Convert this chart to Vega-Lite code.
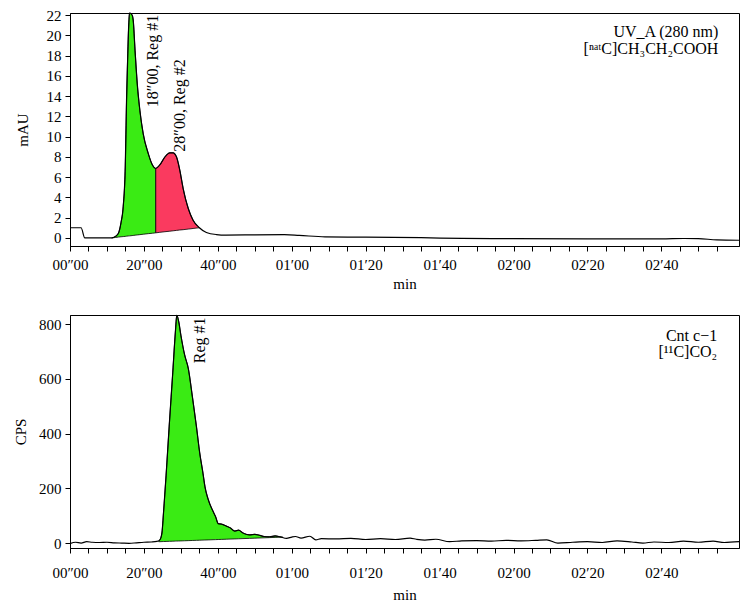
{
  "$schema": "https://vega.github.io/schema/vega-lite/v6.json",
  "padding": {"left": 13, "top": 7, "right": 11, "bottom": 5},
  "spacing": 20,
  "config": {
    "font": "Liberation Serif",
    "view": {"stroke": "#000", "strokeWidth": 1},
    "axis": {"grid": false, "domainColor": "#000", "tickColor": "#000", "labelColor": "#000", "titleColor": "#000", "labelFont": "Liberation Serif", "titleFont": "Liberation Serif", "labelFontSize": 15, "titleFontSize": 15, "titleFontWeight": "normal", "tickSize": 5, "labelPadding": 4, "domainWidth": 1, "tickWidth": 1},
    "text": {"font": "Liberation Serif", "color": "#000"}
  },
  "datasets": {
    "uv": [
      {"t":0,"v":1.0},{"t":3.0,"v":1.0},{"t":4.0,"v":0},{"t":11.3,"v":0},{"t":12.3,"v":0.15},{"t":13.1,"v":0.45},{"t":13.8,"v":1.5},{"t":14.4,"v":3.1},{"t":14.95,"v":7.0},{"t":15.3,"v":13.6},{"t":15.8,"v":20.2},{"t":16.1,"v":22.2},{"t":16.8,"v":22.0},{"t":17.1,"v":21.5},{"t":17.6,"v":18.5},{"t":18.2,"v":15.2},{"t":18.9,"v":12.6},{"t":19.8,"v":10.3},{"t":21.2,"v":8.3},{"t":22.3,"v":7.2},{"t":23.2,"v":6.85},{"t":24.3,"v":7.2},{"t":25.7,"v":8.0},{"t":27.0,"v":8.4},{"t":27.9,"v":8.4},{"t":28.8,"v":8.0},{"t":29.7,"v":6.7},{"t":30.6,"v":4.9},{"t":32.0,"v":2.9},{"t":33.3,"v":1.75},{"t":35,"v":1.0},{"t":36.9,"v":0.53},{"t":39.6,"v":0.33},{"t":42.2,"v":0.28},{"t":50,"v":0.3},{"t":58,"v":0.32},{"t":62,"v":0.25},{"t":69,"v":0.1},{"t":80,"v":0.07},{"t":95,"v":0.02},{"t":106,"v":-0.05},{"t":120,"v":-0.08},{"t":140,"v":-0.1},{"t":160,"v":-0.1},{"t":166,"v":-0.06},{"t":170,"v":-0.07},{"t":175,"v":-0.2},{"t":181,"v":-0.23}
    ],
    "uvreg": [
      {"reg":"1","t":11.3,"v":0,"base":0},{"reg":"1","t":12.3,"v":0.15,"base":0.04},{"reg":"1","t":13.1,"v":0.45,"base":0.08},{"reg":"1","t":13.8,"v":1.5,"base":0.11},{"reg":"1","t":14.4,"v":3.1,"base":0.13},{"reg":"1","t":14.95,"v":7.0,"base":0.15},{"reg":"1","t":15.3,"v":13.6,"base":0.17},{"reg":"1","t":15.8,"v":20.2,"base":0.19},{"reg":"1","t":16.1,"v":22.2,"base":0.2},{"reg":"1","t":16.8,"v":22.0,"base":0.23},{"reg":"1","t":17.1,"v":21.5,"base":0.24},{"reg":"1","t":17.6,"v":18.5,"base":0.27},{"reg":"1","t":18.2,"v":15.2,"base":0.29},{"reg":"1","t":18.9,"v":12.6,"base":0.32},{"reg":"1","t":19.8,"v":10.3,"base":0.36},{"reg":"1","t":21.2,"v":8.3,"base":0.42},{"reg":"1","t":22.3,"v":7.2,"base":0.46},{"reg":"1","t":23.2,"v":6.85,"base":0.5},
      {"reg":"2","t":23.2,"v":6.85,"base":0.5},{"reg":"2","t":24.3,"v":7.2,"base":0.55},{"reg":"2","t":25.7,"v":8.0,"base":0.61},{"reg":"2","t":27.0,"v":8.4,"base":0.66},{"reg":"2","t":27.9,"v":8.4,"base":0.7},{"reg":"2","t":28.8,"v":8.0,"base":0.74},{"reg":"2","t":29.7,"v":6.7,"base":0.78},{"reg":"2","t":30.6,"v":4.9,"base":0.81},{"reg":"2","t":32.0,"v":2.9,"base":0.87},{"reg":"2","t":33.3,"v":1.75,"base":0.93},{"reg":"2","t":35,"v":1.0,"base":1.0}
    ],
    "uvlab": [
      {"t":22.5,"v":12.9,"label":"18″00, Reg #1"},
      {"t":29.7,"v":8.5,"label":"28″00, Reg #2"}
    ],
    "uvnote": [
      {"t":175.4,"v":20.3,"label":"UV_A (280 nm)"},
      {"t":175.4,"v":18.65,"label":"[ⁿᵃᵗC]CH₃CH₂COOH"}
    ],
    "cps": [
      {"t":0,"v":-2},{"t":1.5,"v":3},{"t":3,"v":0},{"t":4.5,"v":5},{"t":6,"v":3},{"t":8,"v":2},{"t":10,"v":3},{"t":12,"v":1},{"t":14,"v":0},{"t":16,"v":-1},{"t":18,"v":1},{"t":20,"v":3},{"t":22,"v":4},{"t":23.5,"v":6},{"t":24.2,"v":10},{"t":24.6,"v":20},{"t":24.9,"v":40},{"t":25.3,"v":111},{"t":26.0,"v":248},{"t":26.9,"v":440},{"t":27.8,"v":622},{"t":28.5,"v":769},{"t":28.9,"v":832},{"t":29.4,"v":810},{"t":30.0,"v":759},{"t":31.0,"v":688},{"t":32.0,"v":638},{"t":33.1,"v":536},{"t":34.2,"v":426},{"t":35.1,"v":329},{"t":36.0,"v":253},{"t":36.5,"v":207},{"t":37.4,"v":159},{"t":38.7,"v":116},{"t":39.4,"v":96},{"t":40.1,"v":71},{"t":41.0,"v":69},{"t":42.3,"v":62},{"t":43.3,"v":56},{"t":44.6,"v":44},{"t":45.6,"v":47},{"t":46.8,"v":37},{"t":48.6,"v":30},{"t":50.0,"v":32},{"t":51.4,"v":28},{"t":52.5,"v":24},{"t":54,"v":23},{"t":55.5,"v":26},{"t":56.8,"v":23},{"t":58.6,"v":17},{"t":60,"v":22},{"t":61,"v":24},{"t":62.5,"v":18},{"t":64.9,"v":25},{"t":66.5,"v":12},{"t":68,"v":16},{"t":72,"v":15},{"t":76,"v":17},{"t":80,"v":13},{"t":84,"v":16},{"t":88,"v":13},{"t":92,"v":18},{"t":93.7,"v":14},{"t":96,"v":11},{"t":99,"v":14},{"t":102.7,"v":5},{"t":106,"v":8},{"t":110,"v":9},{"t":114,"v":7},{"t":118,"v":10},{"t":122,"v":8},{"t":126,"v":10},{"t":129,"v":12},{"t":132,"v":0},{"t":136,"v":3},{"t":140,"v":5},{"t":144,"v":2},{"t":148,"v":8},{"t":152,"v":4},{"t":155,"v":0},{"t":158,"v":4},{"t":162,"v":2},{"t":166,"v":7},{"t":170,"v":3},{"t":174,"v":7},{"t":177,"v":2},{"t":181,"v":5}
    ],
    "cpsreg": [
      {"reg":"1","t":24.0,"v":5,"base":5},{"reg":"1","t":24.2,"v":10,"base":5},{"reg":"1","t":24.6,"v":20,"base":5.2},{"reg":"1","t":24.9,"v":40,"base":5.4},{"reg":"1","t":25.3,"v":111,"base":5.6},{"reg":"1","t":26.0,"v":248,"base":5.9},{"reg":"1","t":26.9,"v":440,"base":6.4},{"reg":"1","t":27.8,"v":622,"base":6.8},{"reg":"1","t":28.5,"v":769,"base":7.2},{"reg":"1","t":28.9,"v":832,"base":7.4},{"reg":"1","t":29.4,"v":810,"base":7.6},{"reg":"1","t":30.0,"v":759,"base":7.9},{"reg":"1","t":31.0,"v":688,"base":8.4},{"reg":"1","t":32.0,"v":638,"base":8.9},{"reg":"1","t":33.1,"v":536,"base":9.5},{"reg":"1","t":34.2,"v":426,"base":10},{"reg":"1","t":35.1,"v":329,"base":10.5},{"reg":"1","t":36.0,"v":253,"base":10.9},{"reg":"1","t":36.5,"v":207,"base":11.2},{"reg":"1","t":37.4,"v":159,"base":11.6},{"reg":"1","t":38.7,"v":116,"base":12.3},{"reg":"1","t":39.4,"v":96,"base":12.6},{"reg":"1","t":40.1,"v":71,"base":13},{"reg":"1","t":41.0,"v":69,"base":13.4},{"reg":"1","t":42.3,"v":62,"base":14.1},{"reg":"1","t":43.3,"v":56,"base":14.6},{"reg":"1","t":44.6,"v":44,"base":15.2},{"reg":"1","t":45.6,"v":47,"base":15.7},{"reg":"1","t":46.8,"v":37,"base":16.3},{"reg":"1","t":48.6,"v":30,"base":17.2},{"reg":"1","t":50.0,"v":32,"base":17.9},{"reg":"1","t":51.4,"v":28,"base":18.6},{"reg":"1","t":52.5,"v":24,"base":19.2},{"reg":"1","t":54,"v":23,"base":19.9},{"reg":"1","t":55.5,"v":26,"base":20.7},{"reg":"1","t":56.8,"v":23,"base":21.3},{"reg":"1","t":57.6,"v":21,"base":21.5}
    ],
    "cpslab": [
      {"t":35.1,"v":657,"label":"Reg #1"}
    ],
    "cpsnote": [
      {"t":175.1,"v":756,"label":"Cnt c−1"},
      {"t":175.1,"v":697,"label":"[¹¹C]CO₂"}
    ]
  },
  "vconcat": [
    {
      "width": 669,
      "height": 233,
      "encoding": {
        "x": {"field": "t", "type": "quantitative", "scale": {"domain": [0, 181], "nice": false, "zero": false},
          "axis": {"title": "min", "values": [0,5,10,15,20,25,30,35,40,45,50,55,60,65,70,75,80,85,90,95,100,105,110,115,120,125,130,135,140,145,150,155,160,165,170,175],
            "labelExpr": "datum.value % 20 == 0 ? (datum.value < 60 ? (datum.value < 10 ? '0' : '') + datum.value + '″00' : '0' + floor(datum.value / 60) + '′' + (datum.value % 60 < 10 ? '0' : '') + (datum.value % 60)) : ''",
            "labelFlush": false, "labelOverlap": false, "labelPadding": 6, "titlePadding": 4}},
        "y": {"field": "v", "type": "quantitative", "scale": {"domain": [-0.8, 22.2], "nice": false, "zero": false},
          "axis": {"title": "mAU", "values": [0,2,4,6,8,10,12,14,16,18,20,22], "titlePadding": 16}}
      },
      "layer": [
        {"data": {"name": "uvreg"}, "mark": {"type": "area", "stroke": "#000", "strokeWidth": 0.8, "interpolate": "monotone", "fillOpacity": 1},
          "encoding": {"y2": {"field": "base"}, "color": {"field": "reg", "type": "nominal", "scale": {"domain": ["1","2"], "range": ["#3aeb14","#fa3a5f"]}, "legend": null}}},
        {"data": {"name": "uv"}, "mark": {"type": "line", "color": "#000", "strokeWidth": 1.2, "interpolate": "monotone"}},
        {"data": {"name": "uvlab"}, "mark": {"type": "text", "angle": 270, "align": "left", "baseline": "middle", "fontSize": 16}, "encoding": {"text": {"field": "label"}}},
        {"data": {"name": "uvnote"}, "mark": {"type": "text", "align": "right", "baseline": "middle", "fontSize": 16}, "encoding": {"text": {"field": "label"}}}
      ]
    },
    {
      "width": 669,
      "height": 233,
      "encoding": {
        "x": {"field": "t", "type": "quantitative", "scale": {"domain": [0, 181], "nice": false, "zero": false},
          "axis": {"title": "min", "values": [0,5,10,15,20,25,30,35,40,45,50,55,60,65,70,75,80,85,90,95,100,105,110,115,120,125,130,135,140,145,150,155,160,165,170,175],
            "labelExpr": "datum.value % 20 == 0 ? (datum.value < 60 ? (datum.value < 10 ? '0' : '') + datum.value + '″00' : '0' + floor(datum.value / 60) + '′' + (datum.value % 60 < 10 ? '0' : '') + (datum.value % 60)) : ''",
            "labelFlush": false, "labelOverlap": false, "labelPadding": 12, "titlePadding": 7}},
        "y": {"field": "v", "type": "quantitative", "scale": {"domain": [-18, 833], "nice": false, "zero": false},
          "axis": {"title": "CPS", "values": [0,200,400,600,800], "titlePadding": 10}}
      },
      "layer": [
        {"data": {"name": "cpsreg"}, "mark": {"type": "area", "stroke": "#000", "strokeWidth": 0.8, "interpolate": "monotone", "fillOpacity": 1, "color": "#3aeb14"},
          "encoding": {"y2": {"field": "base"}}},
        {"data": {"name": "cps"}, "mark": {"type": "line", "color": "#000", "strokeWidth": 1.2, "interpolate": "monotone"}},
        {"data": {"name": "cpslab"}, "mark": {"type": "text", "angle": 270, "align": "left", "baseline": "middle", "fontSize": 16}, "encoding": {"text": {"field": "label"}}},
        {"data": {"name": "cpsnote"}, "mark": {"type": "text", "align": "right", "baseline": "middle", "fontSize": 16}, "encoding": {"text": {"field": "label"}}}
      ]
    }
  ]
}
